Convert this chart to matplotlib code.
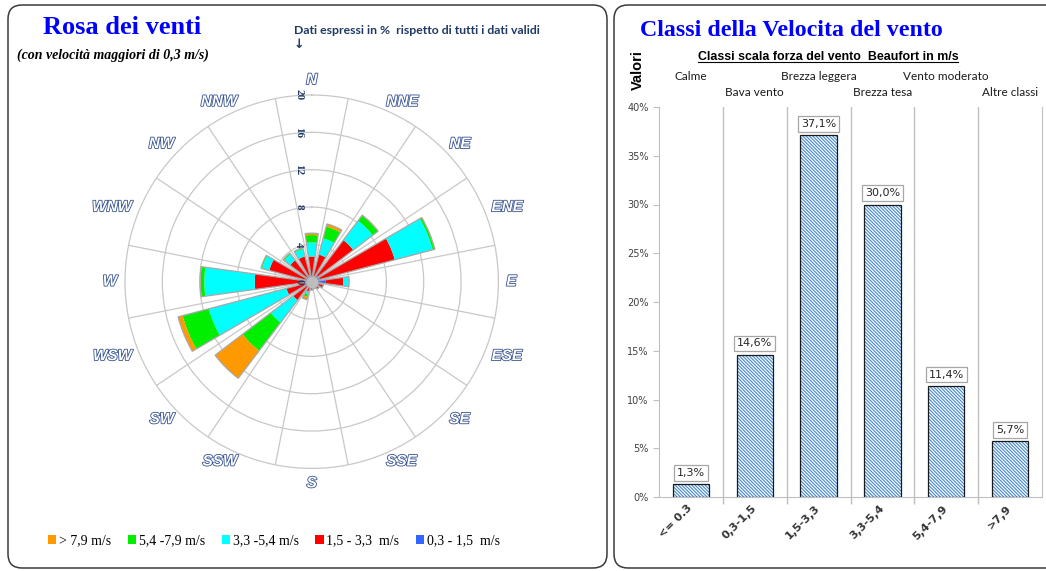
import numpy as np
import matplotlib
matplotlib.use('Agg')
import matplotlib.pyplot as plt
import matplotlib.patheffects as pe
from matplotlib.patches import Patch, FancyBboxPatch
from matplotlib.lines import Line2D
from matplotlib.transforms import IdentityTransform, offset_copy

plt.rcParams['hatch.linewidth'] = 0.8

# rosa dei venti: % sul totale dei dati validi, per settore e classe di velocita
directions = ['N', 'NNE', 'NE', 'ENE', 'E', 'ESE', 'SE', 'SSE',
              'S', 'SSW', 'SW', 'WSW', 'W', 'WNW', 'NW', 'NNW']
v_03_15 = [0.7, 0.7, 0.8, 0.9, 1.5, 0.8, 0.7, 0.6, 0.6, 0.6, 0.7, 0.8, 0.8, 0.7, 0.7, 0.7]
v_15_33 = [2.0, 2.3, 4.8, 8.3, 1.9, 0.5, 0.3, 0.2, 0.3, 0.5, 1.8, 2.0, 5.3, 4.0, 2.2, 2.1]
v_33_54 = [1.5, 1.8, 2.6, 4.2, 0.6, 0.0, 0.0, 0.0, 0.0, 0.3, 3.0, 8.6, 5.4, 0.8, 0.8, 0.8]
v_54_79 = [0.8, 1.3, 0.7, 0.2, 0.0, 0.0, 0.0, 0.0, 0.0, 0.3, 3.8, 2.9, 0.4, 0.1, 0.1, 0.1]
v_79 = [0.2, 0.3, 0.05, 0.05, 0.0, 0.0, 0.0, 0.0, 0.0, 0.3, 3.7, 0.5, 0.05, 0.02, 0.05, 0.05]

speed_labels = ['0,3 - 1,5  m/s', '1,5 - 3,3  m/s', '3,3 -5,4 m/s', '5,4 -7,9 m/s', '> 7,9 m/s']
speed_colors = ['#3366FF', '#FF0000', '#00FFFF', '#00EE00', '#FF9900']

# classi di velocita (Beaufort)
classes = ['<= 0.3', '0,3-1,5', '1,5-3,3', '3,3-5,4', '5,4-7,9', '>7,9']
class_pct = [1.3, 14.6, 37.1, 30.0, 11.4, 5.7]
beaufort = ['Calme', 'Bava vento', 'Brezza leggera', 'Brezza tesa', 'Vento moderato', 'Altre classi']

W, H = 1046, 571
fig = plt.figure(figsize=(W / 100, H / 100), dpi=100)


def fx(x):
    return x / W


def fy(y):
    return 1 - y / H


# cornici arrotondate dei due pannelli
for x0, w in [(8, 599), (614, 460)]:
    fig.add_artist(FancyBboxPatch((x0, 3), w, 563, boxstyle='round,pad=0,rounding_size=14',
                                  transform=IdentityTransform(), fc='none', ec='#3A3A3A', lw=1.1))

# ---- rosa dei venti ----
ax = fig.add_axes([fx(311.7 - 186.7), fy(281.7 + 186.7), 373.4 / W, 373.4 / H], projection='polar')
ax.set_theta_zero_location('N')
ax.set_theta_direction(-1)
ax.set_ylim(0, 20)
ax.set_xticks(np.radians(np.arange(16) * 22.5 + 11.25))
ax.set_xticklabels([])
ax.set_yticks([4, 8, 12, 16])
ax.set_yticklabels([])
ax.grid(color='#C8C8C8', lw=0.9)
ax.spines['polar'].set_color('#C8C8C8')
ax.spines['polar'].set_linewidth(0.9)

theta = np.radians(np.arange(16) * 22.5)
width = np.radians(15.5)
bottom = np.zeros(16)
for vals, col in zip([v_03_15, v_15_33, v_33_54, v_54_79, v_79], speed_colors):
    vals = np.array(vals)
    ax.bar(theta, vals, width=width, bottom=bottom, color=col, edgecolor='none', zorder=3)
    bottom += vals
ax.bar(theta, bottom, width=width, fill=False, edgecolor='#A8A8A8', lw=0.9, zorder=4)
ax.scatter([0], [0], s=55, color='#BDBDBD', zorder=5)

shift = offset_copy(ax.transData, fig=fig, x=-13, y=0, units='dots')
for v in [0, 4, 8, 12, 16, 20]:
    ax.text(0, v, str(v), transform=shift, rotation=-90, ha='center', va='center',
            fontsize=8, fontweight='bold', family='Liberation Serif', color='#1F3864', zorder=6)

# etichette dei settori: il bordo piu vicino al centro poggia sul cerchio esterno
for t, d in zip(theta, directions):
    s, c = np.sin(t), np.cos(t)
    ha = 'left' if s > 0.01 else ('right' if s < -0.01 else 'center')
    va = 'center'
    if abs(s) <= 0.01:
        va = 'bottom' if c > 0 else 'top'
    ax.text(t, 20.85, d, ha=ha, va=va, fontsize=11, fontstyle='italic',
            fontweight='bold', family='Liberation Sans', color='white',
            path_effects=[pe.withStroke(linewidth=1.2, foreground='#34508F')])

fig.text(fx(122), fy(27), 'Rosa dei venti', ha='center', va='center', fontsize=19,
         fontweight='bold', family='Liberation Serif', color='#0000FF')
fig.text(fx(17), fy(55), '(con velocità maggiori di 0,3 m/s)', ha='left', va='center',
         fontsize=10, fontweight='bold', fontstyle='italic', family='Liberation Serif')
fig.text(fx(294), fy(30), 'Dati espressi in %  rispetto di tutti i dati validi', ha='left',
         va='center', fontsize=8.8, fontweight='bold', family='Lato', color='#1F3864')
fig.text(fx(299), fy(45), '↓', ha='center', va='center', fontsize=9, fontweight='bold',
         family='DejaVu Sans', color='#1F3864')

handles = [Patch(facecolor=c, edgecolor='none') for c in speed_colors[::-1]]
fig.legend(handles, speed_labels[::-1], loc='center', bbox_to_anchor=(fx(274), fy(541)),
           ncol=5, frameon=False, prop={'family': 'Liberation Serif', 'size': 10},
           handlelength=0.6, handleheight=0.6, handletextpad=0.2, columnspacing=1.2)

# ---- classi di velocita ----
bx = fig.add_axes([fx(659), fy(497), 383 / W, 390 / H])
x = np.arange(len(classes))
bx.bar(x, class_pct, width=0.57, color='white', hatch='\\' * 10, edgecolor='#4286D0', lw=0, zorder=2)
bx.bar(x, class_pct, width=0.57, fill=False, edgecolor='#1A1A1A', lw=0.9, zorder=3)
bx.set_xlim(-0.5, 5.5)
bx.set_ylim(0, 40)
bx.set_yticks(range(0, 41, 5))
bx.yaxis.set_major_formatter(lambda v, p: f'{v:.0f}%')
bx.set_xticks(x)
bx.set_xticklabels(classes, rotation=45, ha='right', va='center', rotation_mode='anchor',
                   fontweight='bold', fontsize=8, color='#333333')
bx.set_xticks(np.arange(0.5, 5.5, 1), minor=True)
bx.grid(which='minor', axis='x', color='#BFBFBF', lw=1.0)
bx.tick_params(axis='x', which='major', length=0, pad=7)
bx.tick_params(axis='x', which='minor', length=5, color='#BFBFBF', width=1.0)
bx.tick_params(axis='y', length=4, color='#BFBFBF', labelsize=7, labelcolor='#404040')
for s in ['left', 'bottom', 'right']:
    bx.spines[s].set_color('#BFBFBF')
bx.spines['top'].set_visible(False)

for xi, v in zip(x, class_pct):
    bx.annotate(f'{v:.1f}%'.replace('.', ','), (xi, v), xytext=(0, 4.5), textcoords='offset points',
                ha='center', va='bottom', fontsize=8, family='DejaVu Sans', color='#262626',
                bbox=dict(boxstyle='square,pad=0.25', fc='white', ec='#A6A6A6', lw=0.9))

for i, name in enumerate(beaufort):
    bx.text(i, 1.077 if i % 2 == 0 else 1.036, name, transform=bx.get_xaxis_transform(),
            ha='center', va='center', fontsize=8.5, family='Lato', color='#1A1A1A')

fig.text(fx(791), fy(30), 'Classi della Velocita del vento', ha='center', va='center',
         fontsize=17.2, fontweight='bold', family='Liberation Serif', color='#0000FF')
fig.text(fx(638), fy(70), 'Valori', rotation=90, ha='center', va='center', fontsize=10.5,
         fontweight='bold', family='Liberation Sans')
sub = fig.text(fx(828), fy(57), 'Classi scala forza del vento  Beaufort in m/s', ha='center',
               va='center', fontsize=8.9, fontweight='bold', family='Liberation Sans')

fig.canvas.draw()
bb = sub.get_window_extent()
fig.add_artist(Line2D([bb.x0, bb.x1], [bb.y0 + 1, bb.y0 + 1], transform=IdentityTransform(),
                      color='black', lw=0.8))

fig.savefig('out.png', dpi=100)
